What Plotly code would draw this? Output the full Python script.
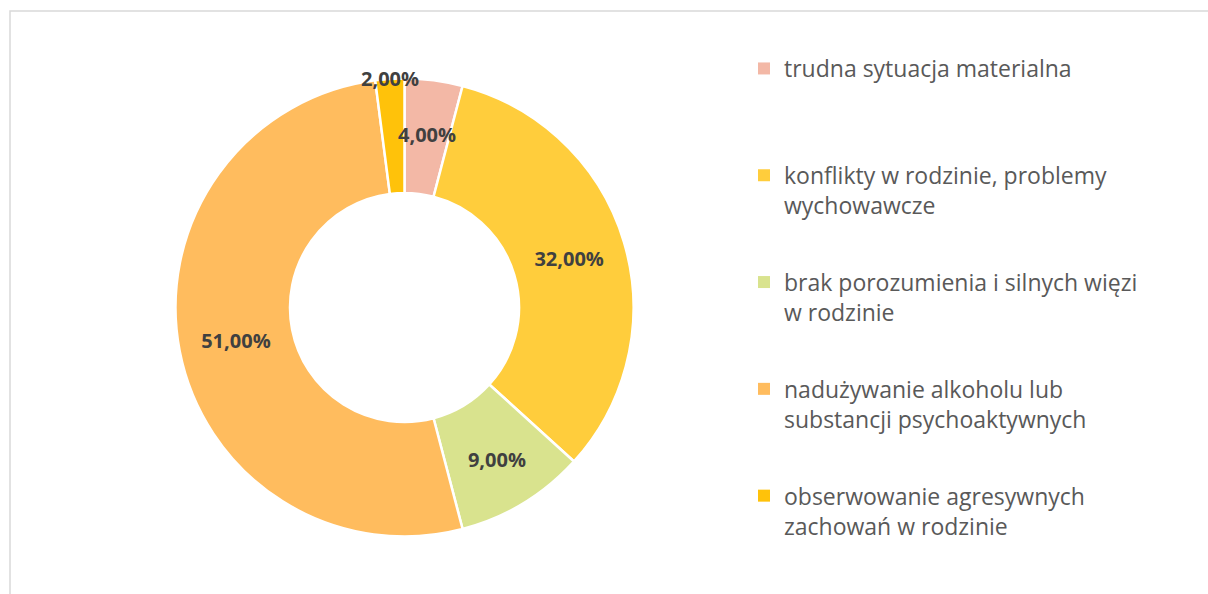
import math
import plotly.graph_objects as go

labels = [
    "trudna sytuacja materialna",
    "konflikty w rodzinie, problemy<br>wychowawcze",
    "brak porozumienia i silnych więzi<br>w rodzinie",
    "nadużywanie alkoholu lub<br>substancji psychoaktywnych",
    "obserwowanie agresywnych<br>zachowań w rodzinie",
]
values = [4, 32, 9, 51, 2]
colors = ["#F3B8A6", "#FFCD3C", "#D9E38E", "#FFBC5E", "#FFC20A"]

W, H = 1208, 594
# pie placement (pixels)
CX, CY, R = 404.5, 307.5, 229
HOLE = 0.5

# labels of the two narrow slices are placed the way the reference shows them
# (fraction of the outer radius at which the label centre sits)
label_radius_override = {0: 0.76, 4: 1.0}

fmt = lambda v: f"{v:.2f}".replace(".", ",") + "%"

texttemplates = ["" if i in label_radius_override else "%{value:.2f}%" for i in range(len(values))]

fig = go.Figure()
fig.add_trace(
    go.Pie(
        labels=[l.replace("<br>", " ") for l in labels],
        values=values,
        sort=False,
        direction="clockwise",
        rotation=0,
        hole=HOLE,
        marker=dict(colors=colors, line=dict(color="white", width=2.5)),
        texttemplate=texttemplates,
        textposition="inside",
        insidetextorientation="horizontal",
        textfont=dict(family="Open Sans", size=20, color="#404040", weight="bold"),
        domain=dict(x=[(CX - R) / W, (CX + R) / W], y=[(H - CY - R) / H, (H - CY + R) / H]),
        hoverinfo="label+value",
        showlegend=False,
    )
)

# legend entries (one group each so the gap between entries can be set)
for i, (lab, col) in enumerate(zip(labels, colors)):
    n = lab.count("<br>") + 1
    fig.add_trace(
        go.Scatter(
            x=[None],
            y=[None],
            mode="markers",
            name=lab + "<br> " * (2 - n),
            legendgroup=f"g{i}",
            marker=dict(symbol="square", size=12, color=col),
            showlegend=True,
            hoverinfo="skip",
        )
    )

# annotations for the narrow-slice labels, positioned from the data
total = sum(values)
annotations = []
cum = 0
for i, v in enumerate(values):
    if i in label_radius_override:
        theta = 2 * math.pi * (cum + v / 2) / total
        r = R * label_radius_override[i]
        px = CX + r * math.sin(theta)
        py = CY - r * math.cos(theta)
        annotations.append(
            dict(
                x=px / W,
                y=1 - py / H,
                xref="paper",
                yref="paper",
                text=fmt(v),
                showarrow=False,
                xanchor="center",
                yanchor="middle",
                font=dict(family="Open Sans", size=20, color="#404040", weight="bold"),
            )
        )
    cum += v

fig.update_layout(
    width=W,
    height=H,
    margin=dict(l=0, r=0, t=0, b=0),
    paper_bgcolor="white",
    plot_bgcolor="white",
    separators=", ",
    uniformtext=dict(minsize=20, mode="show"),
    xaxis=dict(visible=False),
    yaxis=dict(visible=False),
    annotations=annotations,
    legend=dict(
        x=744 / W,
        xanchor="left",
        y=1 - 47 / H,
        yanchor="top",
        valign="top",
        traceorder="grouped",
        tracegroupgap=44,
        font=dict(family="Open Sans", size=23, color="#595959"),
        bgcolor="rgba(0,0,0,0)",
        itemclick=False,
        itemdoubleclick=False,
    ),
    shapes=[
        dict(
            type="rect",
            xref="paper",
            yref="paper",
            x0=10 / W,
            x1=1.1,
            y0=-0.1,
            y1=1 - 11 / H,
            line=dict(color="#D9D9D9", width=1.5),
            fillcolor="rgba(0,0,0,0)",
            layer="below",
        )
    ],
)

fig.write_html(
    "out.html",
    config={"displayModeBar": False},
    post_script="document.body.style.margin='0px';",
)
